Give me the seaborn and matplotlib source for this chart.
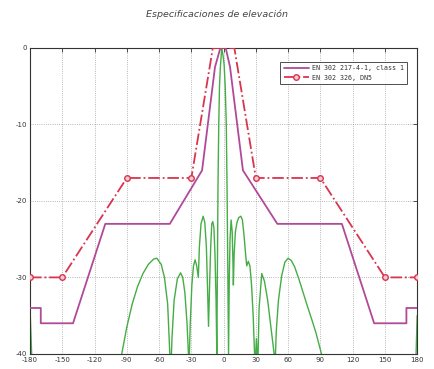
import matplotlib
matplotlib.use("Agg")
import matplotlib.pyplot as plt
import seaborn as sns
import pandas as pd

# ---- data ----
x_ticks = [-180, -150, -120, -90, -60, -30, 0, 30, 60, 90, 120, 150, 180]
y_ticks = [0, -10, -20, -30, -40]

mask1_label = "EN 302 217-4-1, class 1"
mask1_deg = [-180, -170, -170, -140, -110, -50, -20, -8, -3, 2, 6, 18, 50, 110, 140, 170, 170, 180]
mask1_db = [-34, -34, -36, -36, -23, -23, -16, -2.5, 0, 0, -2.5, -16, -23, -23, -36, -36, -34, -34]

mask2_label = "EN 302 326, DN5"
mask2_deg = [-180, -150, -90, -30, -10, 10, 30, 90, 150, 180]
mask2_db = [-30, -30, -17, -17, 0, 0, -17, -17, -30, -30]
mask2_marked = [0, 1, 2, 3, 6, 7, 8, 9]

pattern_deg = [-180, -178.5, -177, -96, -94.7, -90, -85, -80, -75, -70, -65, -62, -58, -55, -52, -50, -49.5,
               -48, -46, -43, -40, -38, -36, -34, -32.7, -32.2,
               -31, -29.5, -28, -26.5, -25, -23.5, -22.5, -21, -19, -17.5, -16, -15, -14, -13, -12, -11, -10,
               -9, -8, -7, -6.3, -5.8, -5.2, -4.5, -3.8, -3, -1.7, -0.5, 0.5, 1.5, 2.5, 3.2, 4, 4.6,
               5.3, 6, 7, 8, 8.7, 9.1, 9.8, 11, 12.5, 14, 16, 17.5, 19, 20.5, 21.5, 23, 24.5, 26, 27.5,
               29.3, 30.5, 31.8, 33, 35.5, 38, 41, 44, 47, 47.5,
               49, 51, 54, 57, 60, 63, 66, 70, 74, 78, 82, 86, 91, 92, 177.5, 179, 180]
pattern_db = [-34, -40, -44, -44, -40, -36.5, -33.5, -31.2, -29.5, -28.3, -27.6, -27.5, -28.3, -30, -33.5, -40, -44,
              -38, -33, -30.2, -29.4, -30, -32, -36, -40, -42,
              -36, -31, -28.5, -27.7, -28.5, -30, -26, -23, -22, -22.8, -26, -31, -36.4, -31, -26, -23, -22.7,
              -23.5, -27, -33, -40, -30, -18, -10, -5, -2.5, 0, -1, -2.2, -5, -10, -18, -30, -40,
              -30, -25, -22.5, -24, -28, -31, -27, -24, -22.8, -22.2, -22, -22.5, -24.5, -27, -28.5, -27.9, -28.5, -31, -35,
              -42, -38, -42, -34, -29.5, -30.5, -33, -36.5, -40, -43,
              -37, -33, -29.8, -28, -27.5, -27.8, -28.6, -30.2, -32, -33.8, -35.5, -37.3, -40, -44, -44, -40, -35]

title_text = "Especificaciones de elevación"

# ---- plot ----
sns.set_theme(style="white")
plt.rcParams["font.family"] = ["DejaVu Sans"]
plt.rcParams["axes.unicode_minus"] = False

fig = plt.figure(figsize=(4.35, 3.69), dpi=100)
ax = fig.add_axes([0.069, 0.041, 0.890, 0.829])

df_p = pd.DataFrame({"deg": pattern_deg, "db": pattern_db})
df_1 = pd.DataFrame({"deg": mask1_deg, "db": mask1_db})
df_2 = pd.DataFrame({"deg": mask2_deg, "db": mask2_db})

green = "#45ad45"
purple = "#b04a98"
red = "#d8354f"

sns.lineplot(data=df_p, x="deg", y="db", ax=ax, color=green, lw=1.0, sort=False,
             estimator=None, legend=False, zorder=2)
sns.lineplot(data=df_1, x="deg", y="db", ax=ax, color=purple, lw=1.3, sort=False,
             estimator=None, label=mask1_label, zorder=3)
sns.lineplot(data=df_2, x="deg", y="db", ax=ax, color=red, lw=1.3, sort=False,
             estimator=None, label=mask2_label, linestyle="-.", marker="o",
             markevery=mask2_marked, markersize=4, markerfacecolor="#f4c9d0",
             markeredgecolor=red, markeredgewidth=1.0, zorder=4)

ax.set_xlim(-180, 180)
ax.set_ylim(-40, 0)
ax.set_xticks(x_ticks)
ax.set_yticks(y_ticks)
ax.set_xlabel("")
ax.set_ylabel("")
ax.grid(True, linestyle=":", color="#a0a0a0", lw=0.6)
ax.tick_params(direction="in", length=3, width=0.6, labelsize=5, colors="#333333",
               top=True, right=True, pad=2)
for s in ax.spines.values():
    s.set_color("#333333")
    s.set_linewidth(0.8)

leg = ax.legend(loc="upper right", bbox_to_anchor=(0.974, 0.954), frameon=True, fancybox=False,
                prop={"family": "DejaVu Sans Mono", "size": 4.8}, handlelength=3.8,
                borderpad=0.5, labelspacing=0.5, handletextpad=0.4, borderaxespad=0)
leg.get_frame().set_edgecolor("#222222")
leg.get_frame().set_linewidth(0.7)
for t in leg.get_texts():
    t.set_color("#333333")

fig.text(0.498, 0.962, title_text, ha="center", va="center", fontsize=6.8,
         style="italic", color="#444444")

fig.savefig("out.png", dpi=100)
